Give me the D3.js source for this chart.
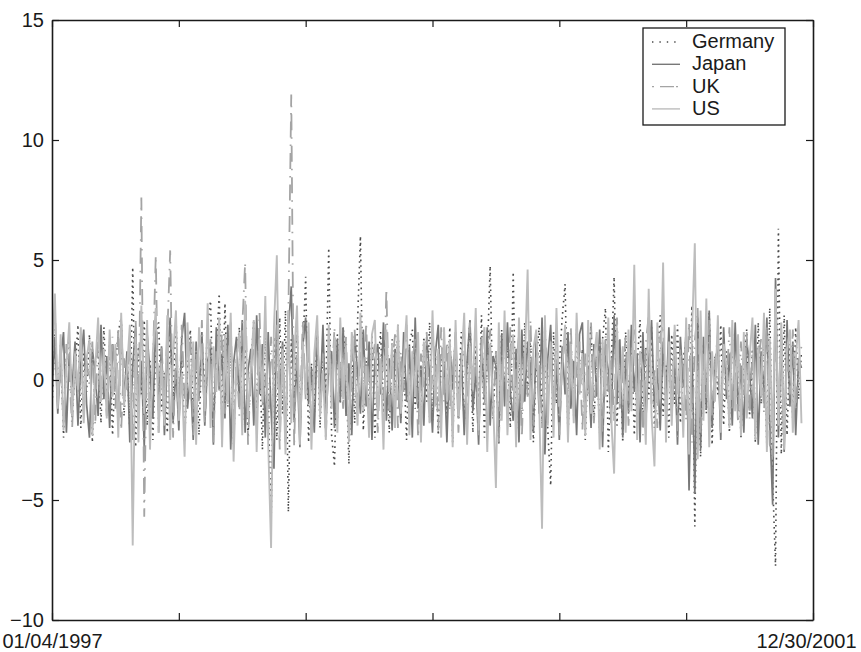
<!DOCTYPE html>
<html>
<head>
<meta charset="utf-8">
<script src="https://cdn.jsdelivr.net/npm/d3@7"></script>
<style>
  body { margin: 0; background: #fff; }
  svg text { font-family: "Liberation Sans", Arial, Helvetica, sans-serif; }
</style>
</head>
<body>
<div id="chart"></div>
<script>
//// data : daily returns, one value every 5 trading days ////
const stepDays = 5;
const dayMax = 1320;
const xTicks = [0, 220, 440, 660, 880, 1100, 1320];
const xTickLabels = ["01/04/1997", "", "", "", "", "", "12/30/2001"];
const yTicks = [-10, -5, 0, 5, 10, 15];
const names = ["Germany", "Japan", "UK", "US"];

const germany = [
  -1.2, 2.1, -0.8, 1.5, -2.4, 0.9, 1.8, -1.6, 0.4, 2.3, -2.0, 1.1, -0.5, 1.9, -2.6, 0.7, 1.3, -1.8, 2.2, -0.9,
  1.6, -2.3, 0.6, 2.0, 2.6, -1.5, 1.0, -2.1, 4.7, -2.8, 1.4, -0.6, 2.5, -1.9, 0.8, -2.5, 1.7, 2.4, -1.3, 0.3,
  -2.2, 1.9, -0.7, 2.7, -1.7, 1.2, -2.6, 0.5, 2.1, -1.4, 0.9, -2.3, 1.6, -0.4, 2.3, 3.3, -1.8, 1.0, 3.6, -2.1,
  3.2, -1.1, 1.5, -2.7, 0.8, 2.2, -1.9, 1.3, -2.4, 0.6, 2.5, -1.6, 1.1, -2.9, 2.0, -0.8, -6.1, 1.8, -2.5, 2.6,
  -1.4, 2.9, -5.5, 1.7, -0.9, 2.4, -2.2, 1.2, 4.3, -2.6, 0.7, -1.5, 2.1, -2.0, 1.4, -0.6, 5.5, -2.3, -3.6, 1.9,
  -1.0, 2.2, 0.5, -3.5, 1.6, -1.8, 2.4, 6.0, -2.1, 0.8, -1.3, 1.9, -2.4, 0.6, 2.0, -1.5, 1.1, -2.2, 1.7, -0.7,
  2.3, -1.6, 0.9, -2.5, 1.5, 2.1, -1.2, 0.4, -2.0, 1.8, -0.9, 2.4, -1.7, 1.0, -2.3, 0.7, 1.6, -1.4, 2.2, -2.6,
  1.3, -0.8, 2.0, -1.9, 0.6, 2.5, -2.2, 1.4, -1.1, 2.7, -2.4, 0.9, 4.75, -1.6, 1.2, -2.7, 2.1, -0.5, 1.7, -2.0,
  4.5, -2.3, 1.1, -1.4, 2.4, -0.7, 1.8, -2.6, 0.8, 2.2, -1.8, 1.5, -2.1, -4.4, 2.0, -1.0, 0.6, 2.6, 4.0, -2.4,
  1.6, -1.2, 2.1, -0.6, 1.3, -2.5, 0.9, 2.3, -1.7, 1.0, -2.2, 1.7, 3.0, -3.0, 0.5, 4.3, -1.9, 1.2, -2.6, 2.0,
  -1.1, 1.8, -2.3, 0.7, 2.5, -1.6, 1.4, -0.8, 2.2, -2.0, 1.1, 2.7, -1.5, 0.6, -2.4, 1.9, -1.0, 2.3, -1.8, 0.9,
  1.7, -2.5, 3.1, -6.1, 2.6, -3.2, 1.5, -1.4, 2.8, -2.7, 1.0, -0.6, 2.3, -1.9, 1.2, -2.2, 2.0, -0.9, 1.6, -2.4,
  0.8, 2.1, -1.5, 1.3, -2.6, 2.4, -1.0, 1.9, -2.8, 3.0, -4.2, -7.75, 6.3, -3.1, 2.7, -2.3, 1.5, -1.7, 2.2, -0.8,
  1.2
];

const japan = [
  -0.6, 1.8, -1.4, 0.9, 2.0, -2.2, 1.1, -0.3, 1.6, -1.9, 0.7, 2.1, -1.0, -2.4, 1.3, 0.2, -1.5, 2.3, -0.8, 1.0,
  -2.0, 1.5, 0.4, -1.7, 2.5, -0.9, 1.2, -2.6, 0.6, 2.2, -1.3, 0.8, -2.8, 1.9, 0.3, -1.6, 2.4, -1.1, 1.4, -2.3,
  0.9, 2.6, -1.8, 0.5, -2.1, 1.7, 2.8, -1.2, 0.2, -2.5, 1.6, -0.7, 2.0, -1.9, 0.8, 1.4, -2.7, 2.2, -0.4, 1.1,
  -1.6, 2.3, -2.9, 0.7, 1.8, -1.1, 2.5, -2.2, 0.4, 1.3, -1.9, 2.7, -0.6, 1.5, -2.4, 2.0, -1.3, -3.7, 2.9, -0.8,
  1.6, -2.6, 2.1, 3.9, -1.7, 0.9, -2.8, 1.4, 2.6, -1.0, 0.5, -2.2, 1.9, -0.7, 2.3, -1.8, 0.6, 1.2, -2.0, 1.7,
  -0.9, 2.2, -1.5, 0.7, -2.3, 1.9, 0.3, -1.4, 2.1, -1.1, 1.6, -2.5, 0.8, 1.5, -0.6, 2.4, -1.7, 0.9, -2.1, 1.3,
  0.5, -1.8, 2.0, -0.9, 1.4, -2.4, 2.6, -1.2, 0.6, -1.9, 1.8, 0.2, -2.2, 1.1, 2.3, -1.5, 0.7, -2.6, 1.5, -0.4,
  2.0, -1.6, 1.1, -2.3, 0.8, 2.5, -1.3, 0.4, -2.7, 1.7, -0.8, 2.2, -1.9, 1.0, 0.6, -2.4, 1.9, -1.1, 2.4, -0.5,
  -1.7, 1.3, -2.6, 2.1, -0.9, 1.6, 0.5, -2.2, 1.8, -1.4, 2.6, -3.1, 0.9, 2.3, -1.6, 0.7, -2.5, 1.4, -0.6, 2.0,
  -1.2, 0.8, -2.3, 1.9, 2.4, -1.5, 0.6, -2.0, 1.5, -0.7, 2.1, -2.8, 1.2, 0.4, -1.8, 2.7, -1.0, 1.7, -2.4, 0.9,
  -1.4, 2.3, -0.5, 1.1, -2.6, 2.0, -1.7, 0.8, 2.5, -1.2, 0.5, -2.1, 1.6, -0.9, 2.2, -1.5, 1.0, -2.7, 1.8, -0.3,
  2.1, -4.6, 1.5, -4.75, 2.6, -2.9, 1.8, -1.2, 2.9, -2.0, 0.7, 1.4, -2.5, 2.2, -0.8, 1.1, -1.9, 2.4, -1.3, 0.6,
  -2.2, 1.7, 0.4, -1.6, 2.3, -2.7, 1.2, -0.5, 2.6, -1.8, -5.2, 4.25, -2.4, 1.9, -3.0, 2.5, -1.1, 1.6, -2.3, 0.9,
  0.5
];

const uk = [
  1.0, 3.0, -1.1, 0.6, -1.8, 1.5, 0.3, -2.0, 1.2, -0.7, 1.9, -1.4, 0.8, -0.2, 1.6, -1.9, 2.1, -0.6, 1.1, -1.5,
  0.5, 1.8, -1.2, 2.2, -2.1, 0.9, -0.4, 1.7, -2.5, 2.6, -1.6, 7.6, -5.7, 2.0, -1.3, 0.7, 5.2, -2.2, 1.4, -0.8,
  1.9, 5.4, -2.4, 1.1, -1.7, 2.3, -0.9, 0.4, 2.0, -2.3, 1.3, -1.0, 2.5, -1.8, 0.6, 1.7, -2.6, 1.2, -0.5, 2.1,
  -1.4, 0.8, 2.4, -2.0, 1.0, -1.5, 2.2, 4.9, -2.7, 0.5, 1.6, -1.9, 2.8, -1.1, 0.3, -2.4, 1.8, -0.7, 2.3, -2.9,
  1.5, -2.2, 2.7, 11.9, -2.8, 1.9, -1.6, 2.5, -0.8, 1.3, -2.1, 0.6, 2.0, -1.3, 1.1, -2.5, 1.7, -0.4, 2.2, -1.7,
  0.9, -1.2, 1.8, -2.3, 0.4, 2.1, -1.5, 1.3, -0.6, 2.4, -1.9, 0.7, 1.5, -2.2, 1.0, -0.8, 3.8, -1.6, 0.6, 1.9,
  -2.0, 1.2, -0.5, 2.3, -1.4, 0.8, 1.7, -2.4, 1.1, -0.3, 2.0, -1.8, 0.5, 1.4, -2.1, 2.2, -0.9, 1.6, -1.3, 0.4,
  1.8, -2.2, 0.7, 1.3, -1.7, 2.4, -0.6, 1.0, -2.3, 1.9, -1.1, 0.3, 2.1, -1.5, 1.2, -2.6, 0.8, 1.6, -0.9, 2.2,
  -1.3, 0.5, 1.9, -2.4, 1.4, -0.7, 2.5, -1.9, 0.9, 1.2, -2.0, 2.3, -0.4, 1.0, -1.6, 2.0, -2.3, 0.6, 1.7, -1.0,
  2.2, -1.5, 0.4, 1.6, -2.1, 1.1, -0.6, 2.4, -1.8, 0.8, 1.5, -2.2, 1.9, -0.5, 1.2, -1.7, 2.6, -1.2, 0.3, 1.8,
  -1.9, 1.0, 2.1, -1.4, 0.6, -2.3, 1.5, 2.7, -1.0, 0.4, -2.0, 1.8, 2.3, -1.6, 0.9, -1.1, 2.0, -2.4, 1.3, 0.5,
  -1.7, 2.4, -2.6, 1.6, 3.0, -2.2, 1.1, -0.8, 2.5, -1.5, 0.7, 1.9, -2.1, 1.4, -0.4, 2.2, -1.3, 0.9, -1.8, 1.6,
  -0.7, 2.0, -1.6, 1.2, -2.2, 0.8, 1.7, -1.4, 2.3, -2.7, -3.3, 2.6, -1.5, 1.8, -2.4, 1.1, -0.6, 2.1, -1.2, 0.7,
  1.4
];

const us = [
  0.8, 3.6, -1.2, 1.9, -2.1, 0.6, 2.4, -1.5, 1.1, -0.4, 2.2, -1.8, 0.9, 1.7, -2.3, 0.5, 2.6, -0.9, 1.3, -1.6,
  2.1, -0.7, 1.5, -2.4, 2.8, -1.1, 0.4, 2.3, -6.9, 1.8, -2.6, 3.1, -1.4, 2.5, -2.9, 1.2, 3.0, -2.2, 0.7, -1.9,
  2.7, -2.5, 1.0, 2.9, -1.7, 0.3, -3.2, 2.4, -0.8, 1.6, -2.7, 2.2, 0.6, -1.3, 3.2, -2.0, 1.4, -0.5, 2.6, -2.8,
  1.9, -1.0, 2.8, -3.4, 0.8, 2.0, -2.3, 3.3, -1.6, 0.5, 2.5, -3.0, 1.7, -0.9, 3.5, -2.6, -7.0, 2.2, 5.2, -2.4,
  1.3, -3.1, 2.9, -1.8, 0.9, 3.1, -2.7, 1.6, -0.6, 2.4, -2.9, 1.1, 2.7, -1.5, 0.4, -2.5, 2.3, -1.2, 1.8, -2.2,
  2.6, -0.8, 1.4, -2.6, 2.0, 0.7, -1.9, 2.8, -1.3, 0.6, -2.4, 1.9, 2.5, -1.6, 0.9, -2.9, 2.1, -0.5, 1.5, -2.0,
  2.3, -1.4, 0.8, 2.7, -2.3, 1.2, -0.7, 2.0, -2.6, 1.6, 0.5, -1.8, 2.9, -1.1, 1.3, -2.4, 2.2, -0.9, 1.7, -2.8,
  2.5, -1.5, 0.6, 2.8, -2.7, 1.4, -0.4, 3.0, -2.1, 1.0, 2.2, -3.0, 1.5, -0.8, -4.5, 2.4, -1.7, 2.9, -2.3, 0.8,
  1.9, -2.8, 2.6, -1.2, 0.7, 4.6, -2.5, 1.3, 2.1, -0.9, -6.2, 2.7, -1.9, 1.6, -2.4, 3.0, -1.1, 0.5, 2.3, -2.6,
  1.5, -1.8, 2.8, -0.6, 1.1, -2.3, 2.5, -1.4, 0.9, 2.0, -2.9, 1.7, -0.7, 2.6, -1.6, -3.9, 2.2, -1.0, 1.4, -2.2,
  2.1, -1.3, 4.8, -2.5, 1.2, 0.4, -2.7, 3.8, -1.5, -3.6, 2.4, -0.8, 4.9, -2.6, 1.6, -1.9, 2.3, -0.6, 1.0, -2.4,
  2.6, -3.1, 1.8, 5.7, -3.3, 2.9, -1.7, 3.4, -2.8, 1.2, -0.9, 2.7, -2.2, 1.5, 0.6, -2.0, 2.5, -1.3, 1.9, -2.3,
  2.0, -1.6, 0.9, 2.6, -2.5, 1.4, -0.7, 2.8, -3.0, 1.7, -2.6, 3.8, -1.9, 2.4, -2.9, 1.3, 2.1, -2.2, 0.8, 2.5,
  -1.8
];

//// styles (drawn in this order, US on top) ////
const series = [germany, japan, uk, us];
const colors = ["#4a4a4a", "#787878", "#a4a4a4", "#bdbdbd"];
const dashes = ["1.6,4", null, "16,7,1.5,7", null];
const widths = [1.6, 1.7, 1.8, 1.9];

var W = 861, H = 652;
var margin = {top: 20, right: 48, bottom: 32, left: 52},
    width = W - margin.left - margin.right,
    height = H - margin.top - margin.bottom;

var svg = d3.select("#chart")
  .append("svg")
  .attr("width", W)
  .attr("height", H)
  .append("g")
  .attr("transform", "translate(" + margin.left + "," + margin.top + ")");

var x = d3.scaleLinear().domain([0, dayMax]).range([0, width]);
var y = d3.scaleLinear().domain([-10, 15]).range([height, 0]);

svg.append("defs").append("clipPath")
  .attr("id", "clip")
  .append("rect")
  .attr("width", width)
  .attr("height", height);

var valueline = d3.line()
  .x(function(d, i) { return x(i * stepDays); })
  .y(function(d) { return y(d); });

var plot = svg.append("g").attr("clip-path", "url(#clip)");

series.forEach(function(s, k) {
  plot.append("path")
    .datum(s)
    .attr("fill", "none")
    .attr("stroke", colors[k])
    .attr("stroke-width", widths[k])
    .attr("stroke-linejoin", "miter")
    .attr("stroke-dasharray", dashes[k])
    .attr("d", valueline);
});

//// axes : matlab style box, ticks inward on all sides ////
var tickLen = 7;
var axisColor = "#1a1a1a";

var xAxis = svg.append("g")
  .attr("transform", "translate(0," + height + ")")
  .call(d3.axisBottom(x).tickValues(xTicks).tickSizeInner(-tickLen).tickSizeOuter(0)
    .tickPadding(14).tickFormat(function(d, i) { return xTickLabels[i]; }));

svg.append("g")
  .call(d3.axisTop(x).tickValues(xTicks).tickSizeInner(-tickLen).tickSizeOuter(0).tickFormat(""));

var yAxis = svg.append("g")
  .call(d3.axisLeft(y).tickValues(yTicks).tickSizeInner(-tickLen).tickSizeOuter(0).tickPadding(8));

svg.append("g")
  .attr("transform", "translate(" + width + ",0)")
  .call(d3.axisRight(y).tickValues(yTicks).tickSizeInner(-tickLen).tickSizeOuter(0).tickFormat(""));

svg.selectAll(".domain").attr("stroke", axisColor).attr("stroke-width", 1.6);
svg.selectAll(".tick line").attr("stroke", axisColor).attr("stroke-width", 1.2);
svg.selectAll(".tick text")
  .attr("fill", "#1a1a1a")
  .style("font-size", "20px");

// last date label sits a bit left so it stays inside the figure
xAxis.selectAll(".tick text")
  .attr("dy", "0.71em")
  .filter(function(d, i) { return i == xTicks.length - 1; })
  .attr("dx", "-7px");

//// legend ////
var lg = svg.append("g").attr("transform", "translate(" + (643 - margin.left) + "," + (28 - margin.top) + ")");
lg.append("rect")
  .attr("width", 142)
  .attr("height", 97)
  .attr("fill", "#fff")
  .attr("stroke", axisColor)
  .attr("stroke-width", 1.3);

names.forEach(function(n, k) {
  var ry = 14 + k * 22.3;
  lg.append("line")
    .attr("x1", 9).attr("x2", 37)
    .attr("y1", ry).attr("y2", ry)
    .attr("stroke", colors[k])
    .attr("stroke-width", 1.4)
    .attr("stroke-dasharray", k == 0 ? "1.4,6" : (k == 2 ? "2,6,14,2" : null));
  lg.append("text")
    .attr("x", 49)
    .attr("y", ry + 6)
    .style("font-size", "20px")
    .attr("fill", "#1a1a1a")
    .text(n);
});
</script>
</body>
</html>
